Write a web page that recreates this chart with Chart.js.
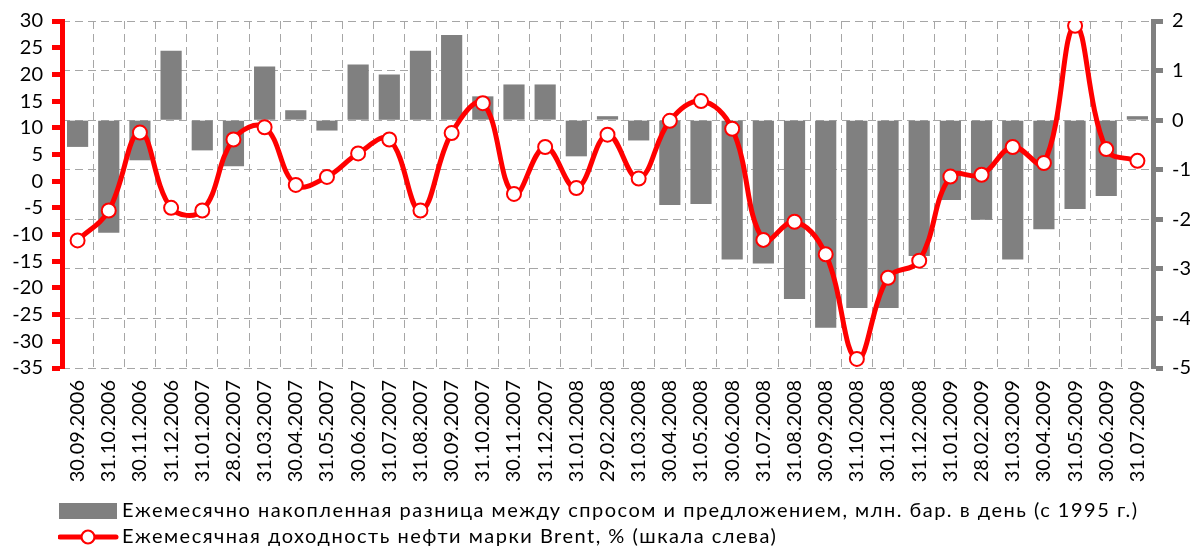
<!DOCTYPE html>
<html>
<head>
<meta charset="utf-8">
<script src="https://cdn.jsdelivr.net/npm/chart.js@4"></script>
<style>
    html, body { margin: 0; padding: 0; background: #ffffff; }
    #chart { display: block; }
</style>
</head>
<body>
<canvas id="chart" width="1190" height="551"></canvas>
<script>
const dates = [
    "30.09.2006", "31.10.2006", "30.11.2006", "31.12.2006", "31.01.2007", "28.02.2007", "31.03.2007",
    "30.04.2007", "31.05.2007", "30.06.2007", "31.07.2007", "31.08.2007", "30.09.2007", "31.10.2007",
    "30.11.2007", "31.12.2007", "31.01.2008", "29.02.2008", "31.03.2008", "30.04.2008", "31.05.2008",
    "30.06.2008", "31.07.2008", "31.08.2008", "30.09.2008", "31.10.2008", "30.11.2008", "31.12.2008",
    "31.01.2009", "28.02.2009", "31.03.2009", "30.04.2009", "31.05.2009", "30.06.2009", "31.07.2009"
];

// bars, right scale
const balance = [
    -0.54, -2.27, -0.81, 1.40, -0.61, -0.93, 1.08, 0.20, -0.21, 1.12, 0.92, 1.40, 1.72, 0.48,
    0.72, 0.72, -0.73, 0.08, -0.41, -1.71, -1.69, -2.81, -2.89, -3.61, -4.19, -3.79, -3.79, -2.74,
    -1.61, -2.01, -2.81, -2.20, -1.79, -1.53, 0.08
];

// line, left scale
const brent = [
    -11.1, -5.5, 9.1, -5.0, -5.5, 7.8, 10.1, -0.7, 0.8, 5.2, 7.8, -5.5, 9.0, 14.6,
    -2.4, 6.4, -1.3, 8.7, 0.5, 11.3, 15.0, 9.8, -11.0, -7.6, -13.7, -33.3, -18.1, -14.9,
    0.85, 1.2, 6.4, 3.4, 29.1, 6.0, 3.8
];

const leftMin = -35, leftMax = 30, leftStep = 5;
const rightMin = -5, rightMax = 2, rightStep = 1;

const barLabel = "Ежемесячно накопленная разница между спросом и предложением, млн. бар. в день (с 1995 г.)";
const lineLabel = "Ежемесячная доходность нефти марки Brent, % (шкала слева)";

const fontFamily = 'Lato, "Noto Sans", sans-serif';
const red = "#ff0000";
const gray = "#808080";
const gridGray = "#a6a6a6";

function barIcon() {
    const c = document.createElement("canvas");
    c.width = 58;
    c.height = 16;
    const g = c.getContext("2d");
    g.fillStyle = gray;
    g.fillRect(0, 0, 58, 16);
    return c;
}

function lineIcon() {
    const c = document.createElement("canvas");
    c.width = 62;
    c.height = 18;
    const g = c.getContext("2d");
    g.strokeStyle = red;
    g.lineWidth = 5;
    g.lineCap = "round";
    g.beginPath();
    g.moveTo(3, 9);
    g.lineTo(59, 9);
    g.stroke();
    g.beginPath();
    g.arc(31, 9, 6.5, 0, Math.PI * 2);
    g.fillStyle = "#ffffff";
    g.fill();
    g.lineWidth = 2.2;
    g.stroke();
    return c;
}

// move the legend under the labels and space its text out a little
const legendShift = {
    id: "legendShift",
    afterLayout(chart) {
        const legend = chart.legend;
        legend.left = 58;
        legend.top = 495;
        if (!legend._spaced) {
            const draw = legend.draw;
            legend.draw = function () {
                chart.ctx.save();
                chart.ctx.letterSpacing = "1.5px";
                draw.apply(this, arguments);
                chart.ctx.restore();
            };
            legend._spaced = true;
        }
    }
};

const ctx = document.getElementById("chart").getContext("2d");

new Chart(ctx, {
    type: "bar",
    data: {
        labels: dates,
        datasets: [
            {
                type: "bar",
                label: barLabel,
                data: balance,
                yAxisID: "y1",
                backgroundColor: gray,
                borderWidth: 0,
                barPercentage: 0.68,
                categoryPercentage: 1.0,
                order: 2
            },
            {
                type: "line",
                label: lineLabel,
                data: brent,
                yAxisID: "y",
                borderColor: red,
                borderWidth: 5,
                tension: 0.4,
                pointRadius: 7,
                pointBorderWidth: 2,
                pointBackgroundColor: "#ffffff",
                pointBorderColor: red,
                order: 1
            }
        ]
    },
    options: {
        responsive: false,
        animation: false,
        devicePixelRatio: 1,
        layout: { padding: { left: 0, right: 0, top: 18, bottom: 0 } },
        plugins: {
            tooltip: { enabled: false },
            legend: {
                position: "bottom",
                align: "start",
                labels: {
                    usePointStyle: true,
                    pointStyleWidth: 48,
                    boxHeight: 16,
                    padding: 6,
                    color: "#000000",
                    font: { family: fontFamily, size: 20 },
                    generateLabels() {
                        return [
                            { text: barLabel, pointStyle: barIcon(), fillStyle: gray, strokeStyle: gray, lineWidth: 0, hidden: false, datasetIndex: 0, fontColor: "#000000" },
                            { text: lineLabel, pointStyle: lineIcon(), fillStyle: red, strokeStyle: red, lineWidth: 0, hidden: false, datasetIndex: 1, fontColor: "#000000" }
                        ];
                    }
                }
            }
        },
        scales: {
            x: {
                offset: true,
                grid: { offset: true, color: gridGray, lineWidth: 1, drawTicks: false },
                border: { display: false, dash: [8, 5] },
                ticks: {
                    autoSkip: false,
                    minRotation: 90,
                    maxRotation: 90,
                    padding: 12,
                    color: "#000000",
                    font: { family: fontFamily, size: 20 }
                },
                afterFit(scale) { scale.height = 121; }
            },
            y: {
                position: "left",
                min: leftMin,
                max: leftMax,
                ticks: {
                    stepSize: leftStep,
                    autoSkip: false,
                    padding: 9,
                    color: "#000000",
                    font: { family: fontFamily, size: 20 }
                },
                grid: { drawOnChartArea: false, tickLength: 10, tickWidth: 5, tickColor: red, tickBorderDash: [] },
                border: { color: red, width: 5 },
                afterFit(scale) { scale.width = 62; }
            },
            y1: {
                position: "right",
                min: rightMin,
                max: rightMax,
                ticks: {
                    stepSize: rightStep,
                    autoSkip: false,
                    padding: 9,
                    color: "#000000",
                    font: { family: fontFamily, size: 20 }
                },
                grid: { drawOnChartArea: true, color: gridGray, lineWidth: 1, tickLength: 10, tickWidth: 5, tickColor: gray, tickBorderDash: [] },
                border: { color: gray, width: 5, dash: [8, 5] },
                afterFit(scale) { scale.width = 37; }
            }
        }
    },
    plugins: [legendShift]
});
</script>
</body>
</html>
